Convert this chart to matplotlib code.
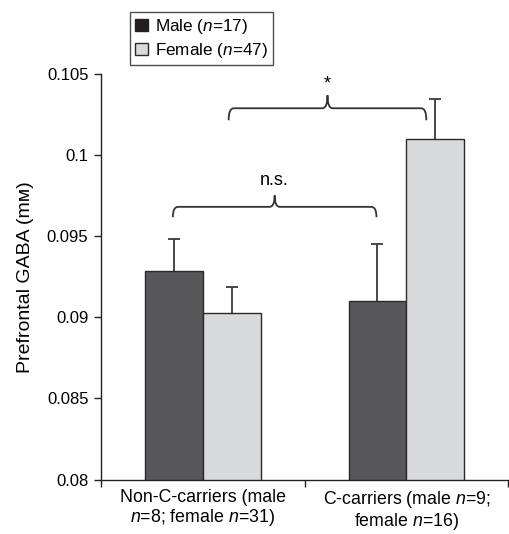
import numpy as np
import matplotlib
matplotlib.use('Agg')
import matplotlib.pyplot as plt
from matplotlib.patches import Patch
from matplotlib.path import Path
from matplotlib.patches import PathPatch

plt.rcParams['font.family'] = ['Liberation Sans', 'DejaVu Sans']
plt.rcParams['mathtext.fontset'] = 'custom'
plt.rcParams['mathtext.rm'] = 'Liberation Sans'
plt.rcParams['mathtext.it'] = 'Liberation Sans:italic'

groups = ['Non-C-carriers (male\n$n$=8; female $n$=31)', 'C-carriers (male $n$=9;\nfemale $n$=16)']
male_mean = [0.09285, 0.0910]
male_err = [0.0020, 0.0035]
female_mean = [0.09025, 0.1010]
female_err = [0.0016, 0.0025]
legend_labels = ['Male ($n$=17)', 'Female ($n$=47)']
yticks = [0.08, 0.085, 0.09, 0.095, 0.1, 0.105]
ytick_labels = ['0.08', '0.085', '0.09', '0.095', '0.1', '0.105']

dark = '#58585a'
light = '#d9dadc'
edge = '#2a2a2a'

fig = plt.figure(figsize=(5.09, 5.34), dpi=100)
ax = fig.add_axes([0.1984, 0.102, 0.80, 0.759])

x = np.arange(len(groups)) + 0.5
w = 0.284
xm = x - w/2
xf = x + w/2
ax.bar(xm, male_mean, w, color=dark, edgecolor=edge, lw=1.0, zorder=2)
ax.bar(xf, female_mean, w, color=light, edgecolor=edge, lw=1.0, zorder=2)
# upper error bars only
for xs, m, e in [(xm, male_mean, male_err), (xf, female_mean, female_err)]:
    top = np.array(m) + np.array(e)
    ax.vlines(xs, m, top, color='#3a3a3a', lw=1.3, zorder=1)
    ax.plot(xs, top, ls='none', marker='_', ms=9, mew=1.3, color='#3a3a3a', zorder=1)

ax.set_xlim(0, 2)
ax.set_ylim(0.08, 0.105)
ax.set_yticks(yticks)
ax.set_yticklabels(ytick_labels, fontsize=12)
ax.set_xticks([0, 1, 2])
ax.set_xticklabels(['', '', ''])
ax.set_xticks(x, minor=True)
ax.set_xticklabels(groups, minor=True, fontsize=12.8, linespacing=1.05)
ax.tick_params(axis='x', which='minor', length=0, pad=7)
ax.tick_params(axis='x', which='major', length=5, width=1, color='#222')
ax.tick_params(axis='y', length=5, width=1, color='#222', pad=4)
ax.spines['top'].set_visible(False)
ax.spines['right'].set_visible(False)
for s in ['left', 'bottom']:
    ax.spines[s].set_color('#222')
    ax.spines[s].set_linewidth(1.0)
ax.set_ylabel('Prefrontal GABA (m\u1d0d)', fontsize=14, labelpad=9)


def brace(x0, x1, y, drop, tip, dx):
    xc = (x0 + x1) / 2
    verts = [(x0, y - drop), (x0, y), (x0 + dx, y),
             (xc - dx, y), (xc, y), (xc, y + tip),
             (xc, y), (xc + dx, y),
             (x1 - dx, y), (x1, y), (x1, y - drop)]
    codes = [Path.MOVETO, Path.CURVE3, Path.CURVE3,
             Path.LINETO, Path.CURVE3, Path.CURVE3,
             Path.CURVE3, Path.CURVE3,
             Path.LINETO, Path.CURVE3, Path.CURVE3]
    ax.add_patch(PathPatch(Path(verts, codes), fill=False, edgecolor='#333', lw=1.3,
                           clip_on=False, zorder=3))


brace(0.353, 1.353, 0.09682, 0.00064, 0.0007, 0.025)
ax.text(0.853, 0.09790, 'n.s.', ha='center', va='bottom', fontsize=13)
brace(0.627, 1.598, 0.1029, 0.00074, 0.0008, 0.025)
ax.text(1.113, 0.10385, '*', ha='center', va='bottom', fontsize=13)

handles = [Patch(facecolor='#231f20', edgecolor='#231f20'),
           Patch(facecolor=light, edgecolor=edge)]
leg = fig.legend(handles, legend_labels, loc='upper left', bbox_to_anchor=(0.255, 0.978),
                 fontsize=12.3, frameon=True, fancybox=False, handlelength=0.75,
                 handleheight=0.75, handletextpad=0.4, borderpad=0.3, labelspacing=0.3,
                 borderaxespad=0)
leg.get_frame().set_edgecolor('#222')
leg.get_frame().set_linewidth(1.0)

fig.savefig('out.png', dpi=100)
